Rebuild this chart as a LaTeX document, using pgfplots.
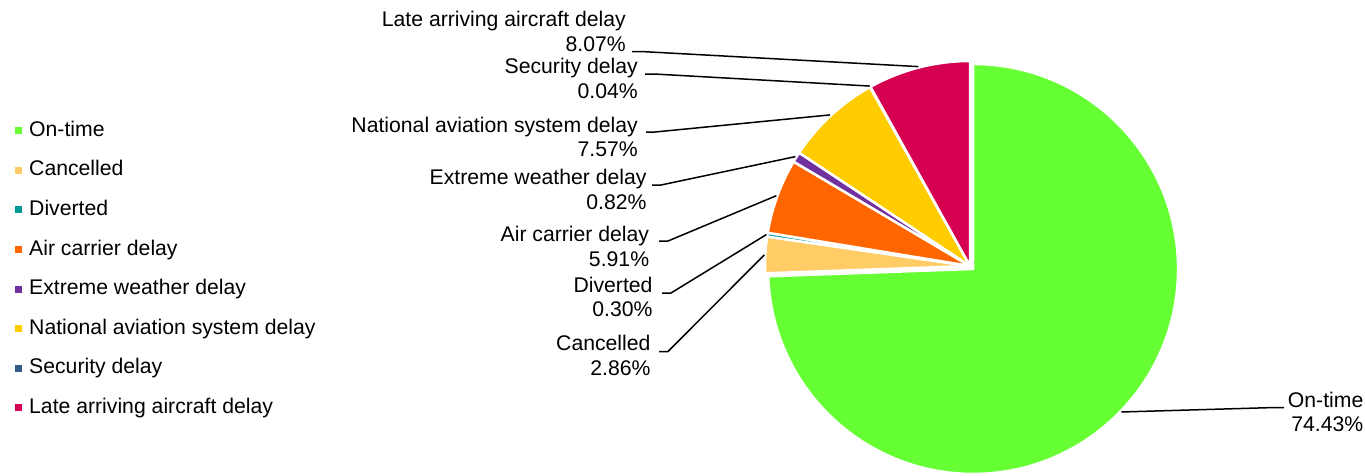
\documentclass[border=0pt]{standalone}
\usepackage{pgfplots}
\pgfplotsset{compat=1.18}
\usepackage{fontspec}
\setmainfont{Liberation Sans}
\usetikzlibrary{calc}

\definecolor{cOn}{HTML}{66FF33}
\definecolor{cCan}{HTML}{FFCC66}
\definecolor{cDiv}{HTML}{009999}
\definecolor{cAir}{HTML}{FF6600}
\definecolor{cExt}{HTML}{7030A0}
\definecolor{cNas}{HTML}{FFCC00}
\definecolor{cSec}{HTML}{335C85}
\definecolor{cLat}{HTML}{D5004F}

\newcommand\lblfont{\fontsize{21.2}{24.4}\selectfont}
\newcommand\cum{0}
% #1 share in percent, #2 colour, #3 name, #4 explode distance
\newcommand\slice[4]{%
  \pgfmathsetmacro\sa{90-3.6*\cum}%
  \pgfmathsetmacro\ea{90-3.6*(\cum+#1)}%
  \pgfmathsetmacro\ma{(\sa+\ea)/2}%
  \pgfmathsetmacro\newcum{\cum+#1}%
  \xdef\cum{\newcum}%
  \coordinate (c-#3) at ($(axis cs:970,266)+(\ma:#4pt)$);
  \fill[#2, draw=white, line width=2.5pt, line join=round]
    (c-#3) -- ++(\sa:205pt) arc[start angle=\sa, end angle=\ea, radius=205pt] -- cycle;
  \coordinate (m-#3) at ($(c-#3)+(\ma:206pt)$);
}

\begin{document}
\begin{tikzpicture}
\begin{axis}[
  width=1365pt, height=475pt, scale only axis,
  xmin=0, xmax=1365, ymin=0, ymax=475,
  y dir=reverse, hide axis, clip=false,
  legend image code/.code={\fill[#1, draw=none] (0pt,-3.5pt) rectangle (7pt,3.5pt);},
  legend style={at={(axis cs:15,120)}, anchor=north west, draw=none, fill=none,
    inner sep=0pt, font=\lblfont, row sep=18.6pt,
    nodes={inner sep=0pt, text height=16pt, text depth=5pt},
    /tikz/every odd column/.append style={column sep=7pt}},
  legend cell align=left,
]
\addlegendimage{fill=cOn}\addlegendentry{On-time}
\addlegendimage{fill=cCan}\addlegendentry{Cancelled}
\addlegendimage{fill=cDiv}\addlegendentry{Diverted}
\addlegendimage{fill=cAir}\addlegendentry{Air carrier delay}
\addlegendimage{fill=cExt}\addlegendentry{Extreme weather delay}
\addlegendimage{fill=cNas}\addlegendentry{National aviation system delay}
\addlegendimage{fill=cSec}\addlegendentry{Security delay}
\addlegendimage{fill=cLat}\addlegendentry{Late arriving aircraft delay}

\pgfplotsextra{
  \slice{74.43}{cOn}{on}{4.24}
  \slice{2.86}{cCan}{can}{0}
  \slice{0.30}{cDiv}{div}{0}
  \slice{5.91}{cAir}{air}{0}
  \slice{0.82}{cExt}{ext}{0}
  \slice{7.57}{cNas}{nas}{0}
  \slice{0.04}{cSec}{sec}{0}
  \slice{8.07}{cLat}{lat}{0}
  \begin{scope}[line width=1.5pt, black]
    \draw (axis cs:632,51.5) -- ++(9pt,0) -- (m-lat);
    \draw (axis cs:645,74) -- ++(9pt,0) -- (m-sec);
    \draw (axis cs:646,132) -- ++(9pt,0) -- (m-nas);
    \draw (axis cs:652,185) -- ++(9pt,0) -- (m-ext);
    \draw (axis cs:659,241) -- ++(9pt,0) -- (m-air);
    \draw (axis cs:662,293) -- ++(9pt,0) -- (m-div);
    \draw (axis cs:659,351.5) -- ++(9pt,0) -- (m-can);
    \draw (axis cs:1284,407.5) -- ++(-9pt,0) -- (m-on);
  \end{scope}
  % base east of a two-line node sits on the baseline of its second line
  \begin{scope}[every node/.style={font=\lblfont, align=right, inner sep=0pt, anchor=base east}]
    \node at (axis cs:626,51) {Late arriving aircraft delay\\8.07\%};
    \node at (axis cs:638,98) {Security delay\\0.04\%};
    \node at (axis cs:638,156.7) {National aviation system delay\\7.57\%};
    \node at (axis cs:646.7,209.3) {Extreme weather delay\\0.82\%};
    \node at (axis cs:649.3,266) {Air carrier delay\\5.91\%};
    \node at (axis cs:652.7,316.7) {Diverted\\0.30\%};
    \node at (axis cs:650.7,375) {Cancelled\\2.86\%};
    \node at (axis cs:1363.5,431.7) {On-time\\74.43\%};
  \end{scope}
}
\end{axis}
\pgfresetboundingbox
\path (current axis.south west) rectangle (current axis.north east);
\end{tikzpicture}
\end{document}
